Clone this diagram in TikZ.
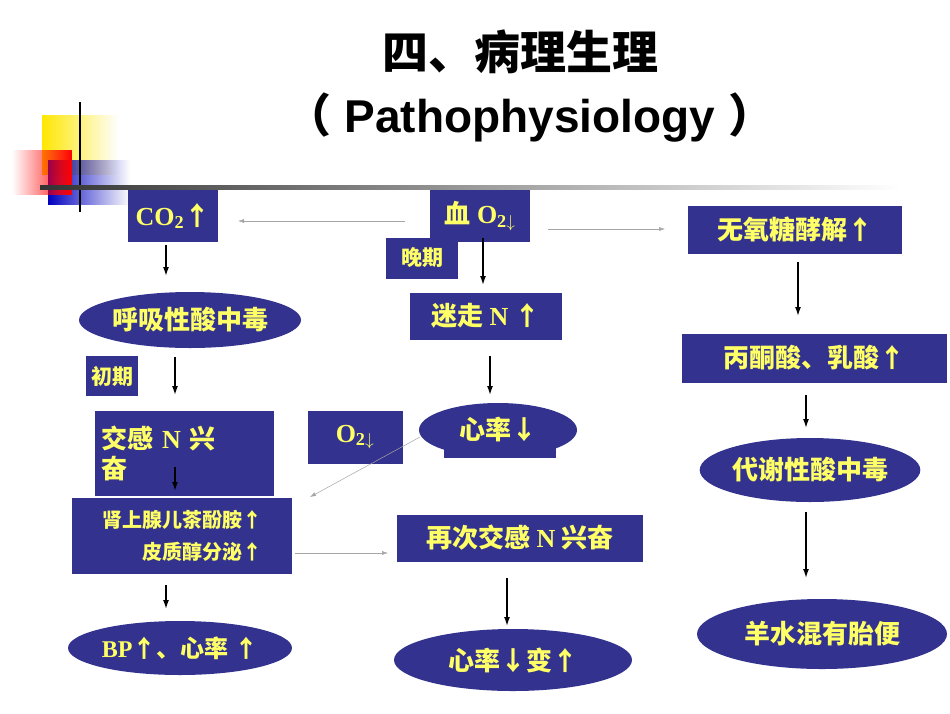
\documentclass[tikz,border=0pt]{standalone}
\usepackage{fontspec}
\setmainfont{Liberation Serif}
\newfontfamily\cjk{Noto Sans CJK SC}
\newfontfamily\titlesans{Liberation Sans}
\usetikzlibrary{shapes.geometric,arrows.meta,fadings}
\definecolor{boxblue}{RGB}{51,51,143}
\definecolor{txtyellow}{RGB}{255,255,102}
\newcommand{\up}{{\cjk ↑}}
\newcommand{\dn}{{\cjk ↓}}
\begin{document}
\begin{tikzpicture}[x=1pt,y=-1pt]
\tikzstyle{box} = [rectangle,fill=boxblue,text=txtyellow,font=\bfseries\fontsize{26}{30}\selectfont,inner sep=0pt]
\tikzstyle{oval} = [ellipse,fill=boxblue,text=txtyellow,font=\bfseries\fontsize{26}{30}\selectfont,inner sep=0pt]
\tikzstyle{down} = [-{Latex[length=9pt,width=6pt]},line width=1.5pt]
\tikzstyle{thin} = [-{Latex[length=6pt,width=4pt]},gray!70,line width=0.5pt]
\useasboundingbox (0,0) rectangle (950,713);
\fill [white] (0,0) rectangle (950,713);

% title
\node [font=\cjk\bfseries\fontsize{46}{48}\selectfont] (title) at (520,52) {四、病理生理};
\node [font=\titlesans\bfseries\fontsize{46}{48}\selectfont] (subtitle) at (530,118) {{\cjk （} Pathophysiology {\cjk ）}};

% decoration
\fill [yellow!90!orange,path fading=east] (42,115) rectangle (118,175);
\fill [blue!75!black,path fading=east] (48,160) rectangle (130,205);
\fill [red,path fading=west] (12,150) rectangle (72,195);
\draw [line width=1.5pt] (80,102) -- (80,212);
\shade [left color=black!80,right color=white] (40,185) rectangle (900,189);

% left column
\node [box,minimum width=90pt,minimum height=52pt] (co2) at (173,216) {CO$_{\mathbf 2}$\up};
\node [oval,minimum width=222pt,minimum height=56pt] (acid) at (190,320) {\cjk 呼吸性酸中毒};
\node [box,minimum width=52pt,minimum height=40pt,font=\cjk\bfseries\fontsize{21}{24}\selectfont] (early) at (112,376) {初期};
\node [box,minimum width=179pt,minimum height=85pt,align=left,text width=165pt] (symp) at (184,453) {{\cjk 交感} N {\cjk 兴}\\{\cjk 奋}};
\node [box,minimum width=220pt,minimum height=76pt,font=\cjk\bfseries\fontsize{20}{32}\selectfont,align=right] (hormone) at (182,536) {肾上腺儿茶酚胺↑\\皮质醇分泌↑};
\node [oval,minimum width=224pt,minimum height=54pt,inner sep=-8pt,font=\bfseries\fontsize{24}{28}\selectfont] (bp) at (180,648) {BP\up{\cjk 、心率 ↑}};

% middle column
\node [box,minimum width=100pt,minimum height=52pt] (blood) at (480,216) {{\cjk 血} O$_{\mathbf 2\downarrow}$};
\node [box,minimum width=72pt,minimum height=41pt,font=\cjk\bfseries\fontsize{21}{24}\selectfont] (late) at (422,258) {晚期};
\node [box,minimum width=152pt,minimum height=47pt] (vagus) at (486,316) {{\cjk 迷走} N \up};
\node [box,minimum width=95pt,minimum height=53pt] (o2) at (355,437) {O$_{\mathbf 2\downarrow}$};
\fill [boxblue] (444,430) rectangle (556,458);
\node [oval,minimum width=158pt,minimum height=54pt] (rate) at (498,430) {{\cjk 心率}\dn};
\node [box,minimum width=246pt,minimum height=47pt] (again) at (520,538) {{\cjk 再次交感} N {\cjk 兴奋}};
\node [oval,minimum width=238pt,minimum height=62pt] (change) at (513,660) {{\cjk 心率}\dn{\cjk 变}\up};

% right column
\node [box,minimum width=214pt,minimum height=48pt,font=\cjk\bfseries\fontsize{26}{30}\selectfont] (glyco) at (795,230) {无氧糖酵解↑};
\node [box,minimum width=265pt,minimum height=49pt,font=\cjk\bfseries\fontsize{26}{30}\selectfont] (pyru) at (814,358) {丙酮酸、乳酸↑};
\node [oval,minimum width=214pt,minimum height=64pt] (meta) at (810,470) {\cjk 代谢性酸中毒};
\node [oval,minimum width=250pt,minimum height=70pt] (meco) at (822,634) {\cjk 羊水混有胎便};

% connector ends
\coordinate (c1a) at (405,221); \coordinate (c1b) at (238,221);
\coordinate (c2a) at (548,229); \coordinate (c2b) at (665,229);
\coordinate (c3a) at (420,437); \coordinate (c3b) at (310,497);
\coordinate (c4a) at (295,553); \coordinate (c4b) at (388,553);
\coordinate (d1a) at (166,245); \coordinate (d1b) at (166,276);
\coordinate (d2a) at (175,357); \coordinate (d2b) at (175,395);
\coordinate (d3a) at (175,467); \coordinate (d3b) at (175,491);
\coordinate (d4a) at (166,585); \coordinate (d4b) at (166,609);
\coordinate (d5a) at (483,238); \coordinate (d5b) at (483,285);
\coordinate (d6a) at (490,356); \coordinate (d6b) at (490,395);
\coordinate (d7a) at (507,578); \coordinate (d7b) at (507,626);
\coordinate (d8a) at (798,262); \coordinate (d8b) at (798,316);
\coordinate (d9a) at (806,395); \coordinate (d9b) at (806,428);
\coordinate (d10a) at (806,512); \coordinate (d10b) at (806,578);

% connectors
\draw [thin] (c1a) -- (c1b);
\draw [thin] (c2a) -- (c2b);
\draw [thin] (c3a) -- (c3b);
\draw [thin] (c4a) -- (c4b);
\foreach \i in {1,...,10}
  \draw [down] (d\i a) -- (d\i b);
\end{tikzpicture}
\end{document}
